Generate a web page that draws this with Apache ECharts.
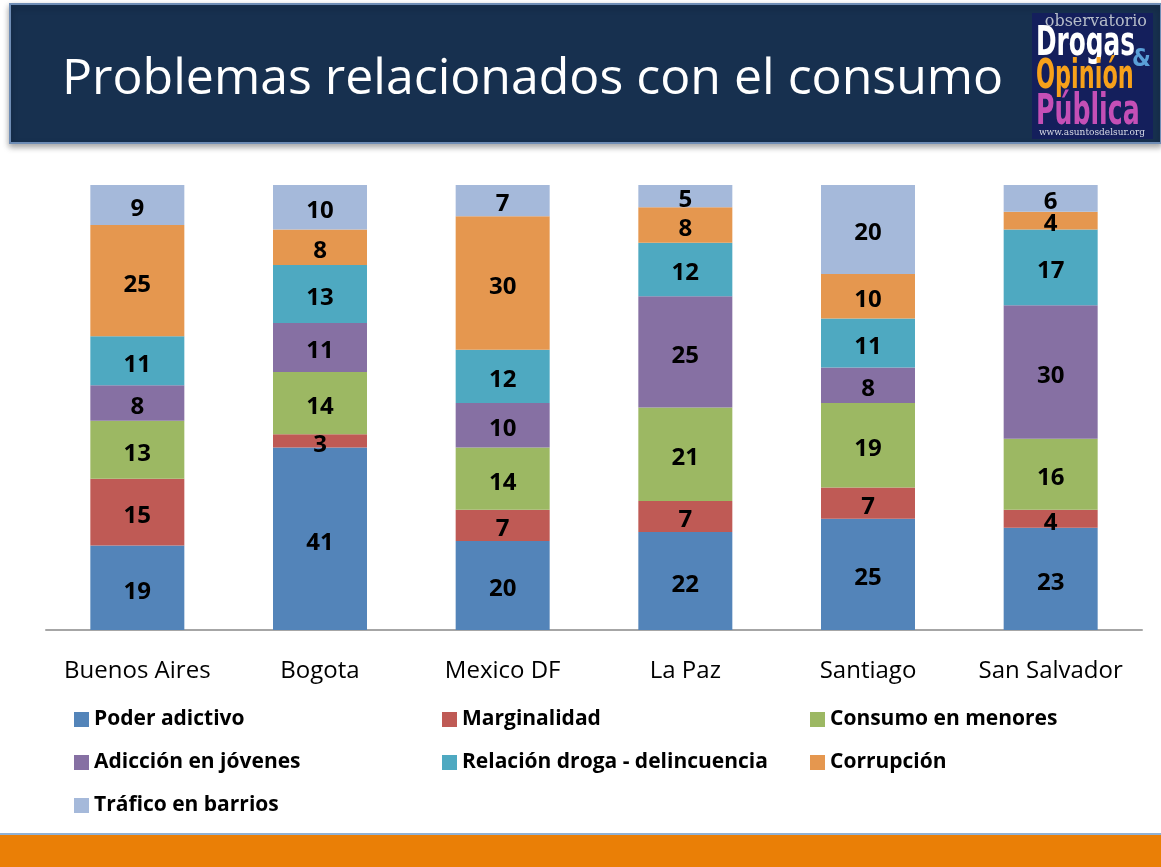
<!DOCTYPE html>
<html>
<head>
<meta charset="utf-8">
<style>
  html, body { margin: 0; padding: 0; background: #ffffff; }
  #chart { width: 1161px; height: 867px; }
</style>
<script src="https://cdn.jsdelivr.net/npm/echarts@6/dist/echarts.min.js"></script>
</head>
<body>
<div id="chart"></div>
<script>
// ciudades (eje X)
var cities = ['Buenos Aires', 'Bogota', 'Mexico DF', 'La Paz', 'Santiago', 'San Salvador'];

// series, de abajo hacia arriba
var poderAdictivo   = [19, 41, 20, 22, 25, 23];
var marginalidad    = [15, 3, 7, 7, 7, 4];
var consumoMenores  = [13, 14, 14, 21, 19, 16];
var adiccionJovenes = [8, 11, 10, 25, 8, 30];
var relacionDroga   = [11, 13, 12, 12, 11, 17];
var corrupcion      = [25, 8, 30, 8, 10, 4];
var traficoBarrios  = [9, 10, 7, 5, 20, 6];

var seriesDefs = [
  { name: 'Poder adictivo', data: poderAdictivo, color: '#5384b9' },
  { name: 'Marginalidad', data: marginalidad, color: '#bf5a55' },
  { name: 'Consumo en menores', data: consumoMenores, color: '#9cb863' },
  { name: 'Adicción en jóvenes', data: adiccionJovenes, color: '#8670a3' },
  { name: 'Relación droga - delincuencia', data: relacionDroga, color: '#4ea9c1' },
  { name: 'Corrupción', data: corrupcion, color: '#e5974f' },
  { name: 'Tráfico en barrios', data: traficoBarrios, color: '#a5b9da' }
];

var FONT = '"Open Sans", "Noto Sans", sans-serif';
var LOGO_FONT = '"DejaVu Sans", sans-serif';

var chart = echarts.init(document.getElementById('chart'), null, { renderer: 'canvas' });

// leyenda en tres columnas
function legendCol(names, left) {
  return {
    orient: 'vertical',
    left: left,
    top: 709,
    padding: 0,
    itemGap: 22,
    itemWidth: 15,
    itemHeight: 15,
    icon: 'rect',
    data: names,
    textStyle: { color: '#000', fontSize: 21, fontWeight: 'bold', fontFamily: FONT, padding: [0, 0, 0, 0] },
    selectedMode: false
  };
}

// texto del logo, comprimido horizontalmente
function logoText(txt, x, y, size, color, sx) {
  return { type: 'text', x: x, y: y, scaleX: sx, style: { text: txt, fill: color,
    font: 'bold ' + size + 'px ' + LOGO_FONT } };
}

var option = {
  animation: false,
  backgroundColor: '#ffffff',
  grid: { left: 46, right: 19, top: 185, bottom: 237 },
  legend: [
    legendCol(['Poder adictivo', 'Adicción en jóvenes', 'Tráfico en barrios'], 74),
    legendCol(['Marginalidad', 'Relación droga - delincuencia'], 442),
    legendCol(['Consumo en menores', 'Corrupción'], 810)
  ],
  xAxis: {
    type: 'category',
    data: cities,
    axisLine: { lineStyle: { color: '#a6a6a6', width: 2 } },
    axisTick: { show: false },
    axisLabel: { interval: 0, color: '#000', fontSize: 24, fontFamily: FONT, margin: 29 }
  },
  yAxis: {
    type: 'value', min: 0, max: 100, show: false
  },
  series: seriesDefs.map(function (s) {
    return {
      name: s.name,
      type: 'bar',
      stack: 'total',
      data: s.data,
      barWidth: 94,
      itemStyle: { color: s.color },
      label: {
        show: true,
        position: 'inside',
        offset: [0, 4],
        color: '#000',
        fontSize: 24,
        fontWeight: 'bold',
        fontFamily: FONT
      }
    };
  }),
  graphic: [
    // franja del título
    { type: 'rect', shape: { x: 10, y: 4, width: 1151, height: 139 },
      style: { fill: '#17304f', stroke: '#6f8db5', lineWidth: 2,
               shadowBlur: 6, shadowOffsetY: 3, shadowColor: 'rgba(0,0,0,0.35)' } },
    { type: 'text', left: 62, top: 55,
      style: { text: 'Problemas relacionados con el consumo', fill: '#ffffff',
               font: '50px "Open Sans", "Noto Sans", sans-serif' } },
    // logo
    { type: 'rect', shape: { x: 1032, y: 13, width: 121, height: 126 }, style: { fill: '#141f5c' } },
    { type: 'text', x: 1147, y: 14, style: { text: 'observatorio', fill: '#b5bcc8', align: 'right',
      font: '16px "DejaVu Serif", serif' } },
    logoText('Drogas', 1036, 25, 40, '#ffffff', 0.62),
    logoText('&', 1132, 48, 24, '#5aa0d8', 0.9),
    logoText('Opinión', 1036, 58, 40, '#f7a11a', 0.56),
    logoText('Pública', 1036, 92, 42, '#c44fb6', 0.6),
    { type: 'text', x: 1092, y: 128, style: { text: 'www.asuntosdelsur.org', fill: '#d8dbe6', align: 'center',
      font: '9px "DejaVu Serif", serif' } },
    // franja inferior
    { type: 'rect', shape: { x: 0, y: 833, width: 1161, height: 2 }, style: { fill: '#8fb1d6' } },
    { type: 'rect', shape: { x: 0, y: 835, width: 1161, height: 32 }, style: { fill: '#ea7f06' } }
  ]
};

chart.setOption(option);
</script>
</body>
</html>
